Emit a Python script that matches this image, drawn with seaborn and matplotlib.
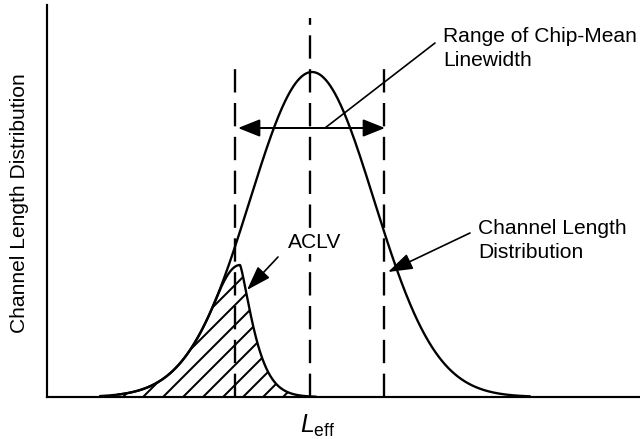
import numpy as np
import pandas as pd
import matplotlib.pyplot as plt
import seaborn as sns

# schematic values, in pixel-like units
# (x = horizontal position, y = height above the baseline)
main_center = 312
main_sigma = 62
main_peak = 325
main_span = (100, 530)

aclv_peak_x = 240
aclv_peak = 132
aclv_join_x = 217          # where the ACLV curve leaves the main curve
aclv_right_scale = 19
aclv_right_power = 1.3
aclv_span = (118, 316)

dash_x = [235, 310, 384]
dash_top = [337, 379, 335]

range_y = 269
range_ends = [238, 385]

ylabel_text = "Channel Length Distribution"
xlabel_text = r"$L_{\mathrm{eff}}$"
range_label = "Range of Chip-Mean\nLinewidth"
dist_label = "Channel Length\nDistribution"
aclv_label = "ACLV"


def main_curve(x):
    return main_peak * np.exp(-0.5 * ((x - main_center) / main_sigma) ** 2)


def aclv_curve(x):
    join_h = main_curve(aclv_join_x)
    s_left = (aclv_peak_x - aclv_join_x) / np.sqrt(2 * np.log(aclv_peak / join_h))
    left = aclv_peak * np.exp(-0.5 * ((x - aclv_peak_x) / s_left) ** 2)
    right = aclv_peak * np.exp(-(np.abs(x - aclv_peak_x) / aclv_right_scale) ** aclv_right_power)
    return np.where(x < aclv_join_x, main_curve(x), np.where(x < aclv_peak_x, left, right))


sns.set_theme(style="ticks")
plt.rcParams['font.family'] = ['Liberation Sans', 'DejaVu Sans']
plt.rcParams['mathtext.fontset'] = 'custom'
plt.rcParams['mathtext.rm'] = 'Liberation Sans'
plt.rcParams['mathtext.it'] = 'Liberation Sans:italic'
plt.rcParams['hatch.linewidth'] = 1.2
plt.rcParams['text.color'] = 'black'
plt.rcParams['axes.labelcolor'] = 'black'

xs = np.linspace(*main_span, 800)
df_main = pd.DataFrame({'x': xs, 'y': main_curve(xs)})
xa = np.linspace(*aclv_span, 600)
df_aclv = pd.DataFrame({'x': xa, 'y': aclv_curve(xa)})

fig = plt.figure(figsize=(640 / 120, 439 / 120), dpi=120)
ax = fig.add_axes([47 / 640, 42 / 439, 593 / 640, 392 / 439])
ax.set_xlim(47, 640)
ax.set_ylim(0, 392)

ax.fill_between(df_aclv.x, 0, df_aclv.y, facecolor='none', edgecolor='black', hatch='//', linewidth=0)
sns.lineplot(data=df_aclv, x='x', y='y', ax=ax, color='black', lw=1.4, sort=False)
sns.lineplot(data=df_main, x='x', y='y', ax=ax, color='black', lw=1.4, sort=False)

ax.vlines(dash_x, 0, dash_top, colors='black', linewidth=1.4, linestyles=(0, (10, 4.5)))

ax.annotate('', xy=(range_ends[0], range_y), xytext=(range_ends[1], range_y),
            arrowprops=dict(arrowstyle='<|-|>,head_length=0.4,head_width=0.16', mutation_scale=28,
                            lw=1.2, color='black', shrinkA=0, shrinkB=0))

# leader lines and labels
ax.annotate('', xy=(325, range_y), xytext=(435, 354),
            arrowprops=dict(arrowstyle='-', lw=1.0, color='black', shrinkA=0, shrinkB=0))
ax.text(443, 370, range_label, fontsize=12.6, ha='left', va='top', linespacing=1.35)

ax.annotate('', xy=(388, 125), xytext=(470, 164),
            arrowprops=dict(arrowstyle='-|>,head_length=0.45,head_width=0.15', mutation_scale=28,
                            lw=1.0, color='black', shrinkA=0, shrinkB=0))
ax.text(478, 178, dist_label, fontsize=12.6, ha='left', va='top', linespacing=1.35)

ax.annotate('', xy=(247, 107), xytext=(278, 140),
            arrowprops=dict(arrowstyle='-|>,head_length=0.45,head_width=0.15', mutation_scale=28,
                            lw=1.0, color='black', shrinkA=0, shrinkB=0))
ax.text(288, 164, aclv_label, fontsize=12.6, ha='left', va='top',
        bbox=dict(facecolor='white', edgecolor='none', pad=1))

ax.set_xticks([])
ax.set_yticks([])
sns.despine(ax=ax)
for side in ['left', 'bottom']:
    ax.spines[side].set_linewidth(1.3)
    ax.spines[side].set_color('black')

ax.set_xlabel(xlabel_text, fontsize=15)
ax.xaxis.set_label_coords((318 - 47) / 593, -16 / 392)
ax.set_ylabel(ylabel_text, fontsize=12.6)
ax.yaxis.set_label_coords((29 - 47) / 593, (397 - 203) / 392)

fig.savefig('out.png', dpi=120, facecolor='white')
